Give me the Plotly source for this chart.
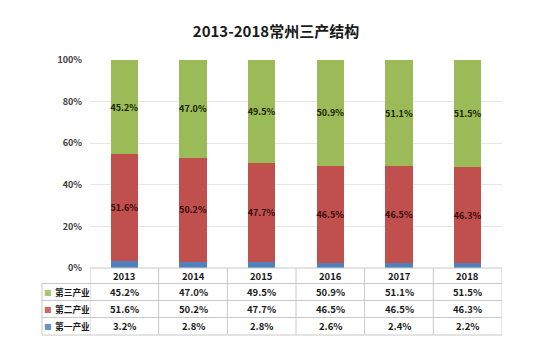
import plotly.graph_objects as go

years = ['2013', '2014', '2015', '2016', '2017', '2018']
tertiary = [45.2, 47.0, 49.5, 50.9, 51.1, 51.5]
secondary = [51.6, 50.2, 47.7, 46.5, 46.5, 46.3]
primary = [3.2, 2.8, 2.8, 2.6, 2.4, 2.2]
row_names = ['第三产业', '第二产业', '第一产业']
yticks = [0, 20, 40, 60, 80, 100]

C_G, C_R, C_B = '#9BBB59', '#C0504D', '#4F81BD'
FONT = 'Noto Sans CJK SC'
W, H = 554, 351

def py(px):
    return 1 - px / H

def pxx(px):
    return px / W

fig = go.Figure()
fig.add_bar(x=years, y=primary, marker_color=C_B, marker_line_width=0, name='第一产业')
fig.add_bar(x=years, y=secondary, marker_color=C_R, marker_line_width=0, name='第二产业',
            text=[f'{v:.1f}%' for v in secondary], textposition='inside',
            insidetextanchor='middle', textangle=0, constraintext='none',
            textfont=dict(color='#3a0a0a', size=9, family=FONT, weight='bold'))
fig.add_bar(x=years, y=tertiary, marker_color=C_G, marker_line_width=0, name='第三产业',
            text=[f'{v:.1f}%' for v in tertiary], textposition='inside',
            insidetextanchor='middle', textangle=0, constraintext='none',
            textfont=dict(color='#1a2200', size=9, family=FONT, weight='bold'))

top, bottom = 60, 268
fig.update_layout(
    width=W, height=H, margin=dict(l=0, r=0, t=0, b=0, autoexpand=False),
    barmode='stack', bargap=0.6, showlegend=False,
    plot_bgcolor='white', paper_bgcolor='white',
    font=dict(family=FONT),
    xaxis=dict(type='category', domain=[pxx(90), pxx(502)], showticklabels=False, ticks='',
               showgrid=False, zeroline=False, showline=False, range=[-0.5, 5.5]),
    yaxis=dict(domain=[py(bottom), py(top)], range=[0, 100], tickvals=yticks,
               ticktext=[f'{v}%' for v in yticks], showgrid=True,
               gridcolor='#E6E6E6', gridwidth=1, zeroline=False, showline=False,
               ticks='', ticklabelstandoff=7,
               tickfont=dict(size=9, color='#404040', family=FONT, weight='bold')),
    title=dict(text='2013-2018常州三产结构', x=276 / W, xanchor='center',
               y=py(32), yanchor='middle', yref='paper',
               font=dict(size=15, color='#1a1a1a', family=FONT, weight='bold')),
)

# Table
row_lines = [268, 283.5, 300.5, 317.5, 335]
line_col = '#C8C8C8'
shapes = []
for i in range(len(years) + 1):
    shapes.append(dict(type='line', xref='x', yref='paper', x0=i - 0.5, x1=i - 0.5,
                       y0=py(row_lines[0]), y1=py(row_lines[-1]),
                       line=dict(color=line_col, width=1)))
for j, yl in enumerate(row_lines):
    shapes.append(dict(type='line', xref='x', yref='paper', x0=-0.5, x1=len(years) - 0.5,
                       y0=py(yl), y1=py(yl), line=dict(color=line_col, width=1)))
    if j >= 1:
        shapes.append(dict(type='line', xref='paper', yref='paper', x0=pxx(42), x1=pxx(90),
                           y0=py(yl), y1=py(yl), line=dict(color=line_col, width=1)))
shapes.append(dict(type='line', xref='paper', yref='paper', x0=pxx(42), x1=pxx(42),
                   y0=py(row_lines[1]), y1=py(row_lines[-1]),
                   line=dict(color=line_col, width=1)))
fig.update_layout(shapes=shapes)

ann = []
tf = dict(size=9.5, color='#1a1a1a', family=FONT, weight='bold')
hf = dict(size=8.7, color='#1a1a1a', family=FONT, weight='bold')
for k, yr in enumerate(years):
    ann.append(dict(xref='x', yref='paper', x=k, y=py((row_lines[0] + row_lines[1]) / 2),
                    xanchor='center', yanchor='middle',
                    text=yr, showarrow=False, font=tf))
series = [tertiary, secondary, primary]
colors = [C_G, C_R, C_B]
for r, (name, vals, col) in enumerate(zip(row_names, series, colors)):
    yc = py((row_lines[r + 1] + row_lines[r + 2]) / 2)
    for k, v in enumerate(vals):
        ann.append(dict(xref='x', yref='paper', x=k, y=yc, text=f'{v:.1f}%',
                        xanchor='center', yanchor='middle',
                        showarrow=False, font=tf))
    ann.append(dict(xref='paper', yref='paper', x=pxx(48), y=yc, xanchor='center',
                    yanchor='middle', text='■', showarrow=False,
                    font=dict(size=8, color=col, family='DejaVu Sans'), opacity=0.85))
    ann.append(dict(xref='paper', yref='paper', x=pxx(52.5), y=yc, xanchor='left',
                    yanchor='middle', text=name, showarrow=False, font=hf))
fig.update_layout(annotations=ann)

fig.write_html('out.html')
